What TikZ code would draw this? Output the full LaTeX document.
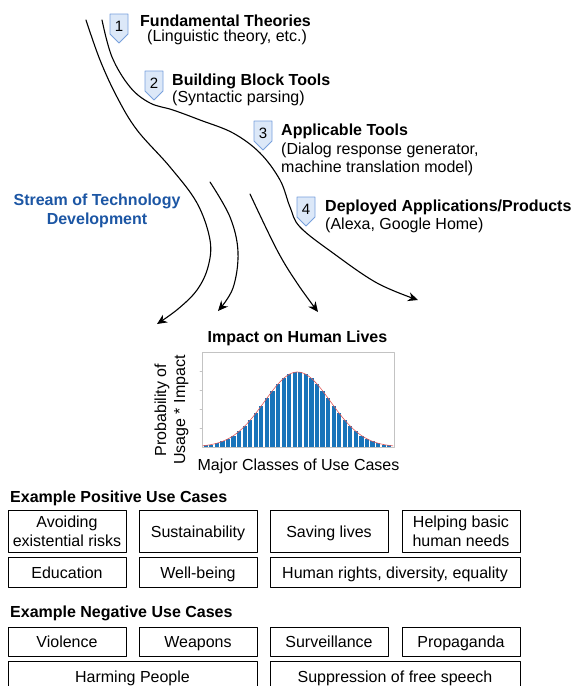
\documentclass[tikz,border=0pt]{standalone}
\usepackage{fontspec}
\setmainfont{Liberation Sans}
\usetikzlibrary{arrows.meta}
\definecolor{streamblue}{RGB}{28,86,164}
\definecolor{badgefill}{RGB}{220,232,248}
\definecolor{badgeedge}{RGB}{120,160,220}
\definecolor{barblue}{RGB}{24,116,186}
\definecolor{fitred}{RGB}{222,90,90}
\definecolor{framegray}{RGB}{195,195,195}
\tikzset{
  txt/.style={font=\fontsize{16}{19}\selectfont, inner sep=0pt},
  ttl/.style={font=\fontsize{16}{19}\selectfont\bfseries, inner sep=0pt},
  case/.style={draw, line width=1pt, inner sep=0pt, align=center, font=\fontsize{16}{19}\selectfont},
  oneline/.style={case, text height=12pt, text depth=0pt},
  flow/.style={line width=1.1pt, -{Stealth[length=10pt,width=9pt]}},
  badgenum/.style={font=\fontsize{15}{18}\selectfont, inner sep=0pt}
}
% badge: name, number, x centre, y top
\newcommand\badge[4]{%
  \draw[badgeedge, fill=badgefill, line width=0.9pt] (#3-9,#4) -- ++(18,0) -- ++(0,20) -- ++(-9,9) -- ++(-9,-9) -- cycle;
  \node[badgenum] (#1) at (#3,#4+12) {#2};}
\begin{document}
\begin{tikzpicture}[x=1pt, y=-1pt, line cap=round, line join=round]
\useasboundingbox (0,0) rectangle (578,686);

% stream of technology
\coordinate (la) at (86,20);  \coordinate (lb) at (157,324);
\coordinate (ra) at (102,20); \coordinate (rb) at (418,300);
\coordinate (ma) at (210,182); \coordinate (mb) at (218,311);
\coordinate (na) at (250,194); \coordinate (nb) at (318,312);
\draw[flow] plot[smooth, tension=0.6] coordinates {(la) (100,60) (117,97) (137,130) (170,167) (197,203) (210,240) (208,267) (197,290) (178,309) (lb)};
\draw[flow] plot[smooth, tension=0.6] coordinates {(ra) (112,57) (130,87) (150,103) (173,110) (200,120) (233,133) (260,153) (280,180) (290,207) (300,227) (333,253) (377,283) (rb)};
\draw[flow] plot[smooth, tension=0.6] coordinates {(ma) (230,217) (238,252) (233,288) (mb)};
\draw[flow] plot[smooth, tension=0.6] coordinates {(na) (277,250) (297,283) (nb)};
\node[ttl, text=streamblue, align=center] (stream) at (97,210.5) {Stream of Technology\\Development};

% stages
\badge{b1}{1}{119}{14}
\node[ttl, anchor=base west] (t1) at (140,26) {Fundamental Theories};
\node[txt, anchor=base west] (s1) at (147,41) {(Linguistic theory, etc.)};
\badge{b2}{2}{154}{71}
\node[ttl, anchor=base west] (t2) at (172,85) {Building Block Tools};
\node[txt, anchor=base west] (s2) at (172,102) {(Syntactic parsing)};
\badge{b3}{3}{263}{121}
\node[ttl, anchor=base west] (t3) at (281,135) {Applicable Tools};
\node[txt, anchor=base west] (s3) at (281,154) {(Dialog response generator,};
\node[txt, anchor=base west] (s3b) at (281,172) {machine translation model)};
\badge{b4}{4}{306}{197}
\node[ttl, anchor=base west] (t4) at (325,211) {Deployed Applications/Products};
\node[txt, anchor=base west] (s4) at (325,229) {(Alexa, Google Home)};

% impact chart
\node[ttl, anchor=base] (impact) at (297.5,342) {Impact on Human Lives};
\draw[framegray, line width=0.7pt] (202,352) rectangle (394,447);
\foreach \t in {371,390,409,428}
  \draw[framegray, line width=0.6pt] (200,\t) -- (202,\t);
\foreach \i in {0,...,33}{
  \pgfmathsetmacro\xc{203+5.56*(\i+0.5)}
  \pgfmathsetmacro\hb{75*exp(-((\xc-297.5)^2)/(2*33^2))}
  \fill[barblue] (\xc-2.1,447) rectangle (\xc+2.1,447-\hb);
}
\draw[fitred, line width=0.6pt, domain=203:393, samples=80] plot (\x,{447-75*exp(-((\x-297.5)^2)/(2*33^2))});
\node[txt, rotate=90, align=center] (ylab) at (171.4,410) {Probability of\\Usage * Impact};
\node[txt, anchor=base] (xlab) at (298.5,470) {Major Classes of Use Cases};

% positive use cases
\node[ttl, anchor=base west] (pos) at (10,502) {Example Positive Use Cases};
\node[case, minimum width=118pt, minimum height=42pt] (avoid) at (67,531) {Avoiding\\existential risks};
\node[oneline, minimum width=118pt, minimum height=42pt] (sust) at (198,531) {Sustainability};
\node[oneline, minimum width=118pt, minimum height=42pt] (save) at (329,531) {Saving lives};
\node[case, minimum width=118pt, minimum height=42pt] (needs) at (461,531) {Helping basic\\human needs};
\node[oneline, minimum width=118pt, minimum height=30pt] (edu) at (67,572) {Education};
\node[oneline, minimum width=118pt, minimum height=30pt] (well) at (198,572) {Well-being};
\node[oneline, minimum width=250pt, minimum height=30pt] (rights) at (395,572) {Human rights, diversity, equality};

% negative use cases
\node[ttl, anchor=base west] (neg) at (10,617) {Example Negative Use Cases};
\node[oneline, minimum width=118pt, minimum height=29pt] (viol) at (67,641.5) {Violence};
\node[oneline, minimum width=118pt, minimum height=29pt] (weap) at (198,641.5) {Weapons};
\node[oneline, minimum width=118pt, minimum height=29pt] (surv) at (329,641.5) {Surveillance};
\node[oneline, minimum width=118pt, minimum height=29pt] (prop) at (461,641.5) {Propaganda};
\node[oneline, minimum width=249pt, minimum height=30pt] (harm) at (132.5,676) {Harming People};
\node[oneline, minimum width=250pt, minimum height=30pt] (speech) at (395,676) {Suppression of free speech};
\end{tikzpicture}
\end{document}
